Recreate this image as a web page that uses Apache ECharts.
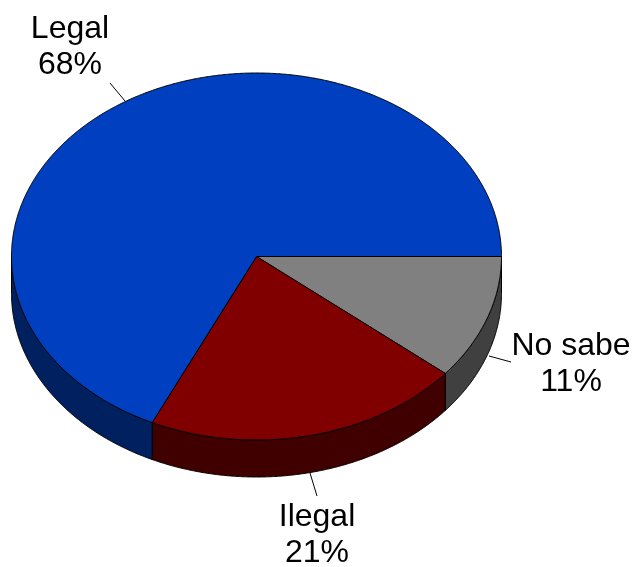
<!DOCTYPE html>
<html><head><meta charset="utf-8">
<style>html,body{margin:0;padding:0;background:#fff}#c{width:634px;height:567px}</style>
<script src="https://cdn.jsdelivr.net/npm/echarts@6/dist/echarts.min.js"></script>
</head><body><div id="c"></div>
<script>
var categories = ['No sabe', 'Ilegal', 'Legal'];
var values = [11, 21, 68];
var topColors = ['#808080', '#800000', '#0040C0'];
var sideColors = ['#404040', '#400000', '#002060'];

var cx = 256.5, cy = 256.5, rx = 245, ry = 183.5, depth = 37;
var labelLayout = [
  {x: 571, y: 346, line: [[489, 356], [511, 362]]},
  {x: 317, y: 517, line: [[310, 473], [317, 496]]},
  {x: 70, y: 29, line: [[110, 83], [125, 101]]}
];
var total = values.reduce(function (a, b) { return a + b; }, 0);
function range(i) {
  var s = 0;
  for (var k = 0; k < i; k++) s += values[k];
  return [s / total * 2 * Math.PI, (s + values[i]) / total * 2 * Math.PI];
}
function arc(a, b, dy) {
  var pts = [], n = Math.max(2, Math.ceil((b - a) / 0.005));
  for (var i = 0; i <= n; i++) {
    var t = a + (b - a) * i / n;
    pts.push([cx + rx * Math.cos(t), cy + dy + ry * Math.sin(t)]);
  }
  return pts;
}
var data = categories.map(function (c, i) { return [i, values[i]]; });

var chart = echarts.init(document.getElementById('c'), null, {renderer: 'canvas'});
chart.setOption({
  animation: false,
  backgroundColor: '#fff',
  series: [
    {
      type: 'custom', coordinateSystem: 'none', data: data, silent: true, z: 1,
      renderItem: function (p, api) {
        var i = api.value(0), r = range(i);
        var a = Math.max(r[0], 0), b = Math.min(r[1], Math.PI);
        if (b <= a) return null;
        var pts = arc(a, b, 0).concat(arc(a, b, depth).reverse());
        return {type: 'polygon', shape: {points: pts},
          style: {fill: sideColors[i], stroke: '#000', lineWidth: 1}};
      }
    },
    {
      type: 'custom', coordinateSystem: 'none', data: data, silent: true, z: 2,
      renderItem: function (p, api) {
        var i = api.value(0), r = range(i);
        var pts = [[cx, cy]].concat(arc(r[0], r[1], 0));
        return {type: 'polygon', shape: {points: pts},
          style: {fill: topColors[i], stroke: '#000', lineWidth: 1}};
      }
    },
    {
      type: 'custom', coordinateSystem: 'none', data: data, silent: true, z: 3,
      renderItem: function (p, api) {
        var i = api.value(0), l = labelLayout[i];
        return {type: 'group', children: [
          {type: 'line', shape: {x1: l.line[0][0], y1: l.line[0][1], x2: l.line[1][0], y2: l.line[1][1]},
            style: {stroke: '#000', lineWidth: 1}},
          {type: 'text', style: {text: categories[i], x: l.x, y: l.y, fill: '#000',
            font: '32px "Liberation Sans", Arial, sans-serif', textAlign: 'center', textVerticalAlign: 'middle'}},
          {type: 'text', style: {text: api.value(1) + '%', x: l.x, y: l.y + 36, fill: '#000',
            font: '32px "Liberation Sans", Arial, sans-serif', textAlign: 'center', textVerticalAlign: 'middle'}}
        ]};
      }
    }
  ]
});
</script></body></html>
